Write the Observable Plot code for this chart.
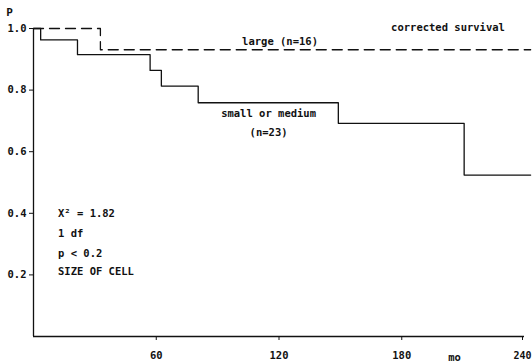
<!DOCTYPE html>
<html>
<head>
<meta charset="utf-8">
<script src="https://cdn.jsdelivr.net/npm/d3@7"></script>
<script src="https://cdn.jsdelivr.net/npm/@observablehq/plot@0.6"></script>
<style>
  html, body { margin: 0; padding: 0; background: #fff; }
  svg { display: block; }
</style>
</head>
<body>
<div id="chart"></div>
<script>
// Survival curves (months, proportion surviving)
const smallTimes = [0, 3.5, 21.5, 57, 62.5, 80.5, 149, 210.5, 243];
const smallSurv  = [1.0, 0.963, 0.915, 0.864, 0.813, 0.759, 0.692, 0.524, 0.524];
const largeTimes = [0, 32.7, 243];
const largeSurv  = [1.0, 0.931, 0.931];

const xTicks = [60, 120, 180];
const xLastTick = [240];
const yTicks = [0.2, 0.4, 0.6, 0.8, 1.0];

const statLines = ["X\u00B2 = 1.82", "1 df", "p < 0.2", "SIZE OF CELL"];
const statY = [0.400, 0.334, 0.269, 0.211];

const small = smallTimes.map((t, i) => ({t, s: smallSurv[i]}));
const large = largeTimes.map((t, i) => ({t, s: largeSurv[i]}));
const stats = statLines.map((label, i) => ({label, y: statY[i]}));

const font = "'DejaVu Sans Mono', 'Liberation Mono', monospace";

const chart = Plot.plot({
  width: 532,
  height: 364,
  marginLeft: 33,
  marginRight: 8,
  marginTop: 28,
  marginBottom: 28,
  style: {fontFamily: font, fontSize: "10.5px", fontWeight: "bold", color: "#111", background: "#fff"},
  x: {domain: [0, 240]},
  y: {domain: [0, 1]},
  marks: [
    Plot.ruleX([0], {y1: 0, y2: 1.0, stroke: "#111", strokeWidth: 1.3}),
    Plot.ruleY([0], {x1: 0, x2: 240, stroke: "#111", strokeWidth: 1.3}),
    Plot.axisY({ticks: yTicks, tickFormat: d3.format(".1f"), tickSize: 4, tickPadding: 3, label: null, fontWeight: "bold"}),
    Plot.axisX({ticks: xTicks, tickFormat: d3.format("d"), tickSize: 4, tickPadding: 11, label: null, fontWeight: "bold"}),
    Plot.axisX({ticks: xLastTick, tickFormat: d3.format("d"), tickSize: 4, tickPadding: 11, label: null, fontWeight: "bold", fontSize: 10, dx: -2}),
    Plot.line(large, {x: "t", y: "s", curve: "step-after", stroke: "#111", strokeWidth: 1.3, strokeDasharray: "10,6", clip: false}),
    Plot.line(small, {x: "t", y: "s", curve: "step-after", stroke: "#111", strokeWidth: 1.3, clip: false}),
    Plot.text(["P"], {x: 0, y: 1.0, dx: -24, dy: -16, fontSize: 11}),
    Plot.text(["mo"], {x: 205.8, y: 0, dy: 21}),
    Plot.text(["corrected survival"], {x: 202.6, y: 1.0, dy: -1}),
    Plot.text(["large (n=16)"], {x: 120.5, y: 0.958}),
    Plot.text(["small or medium"], {x: 114.9, y: 0.724}),
    Plot.text(["(n=23)"], {x: 114.9, y: 0.662}),
    Plot.text(stats, {x: 12, y: "y", text: "label", textAnchor: "start"})
  ]
});
document.getElementById("chart").appendChild(chart);
</script>
</body>
</html>
